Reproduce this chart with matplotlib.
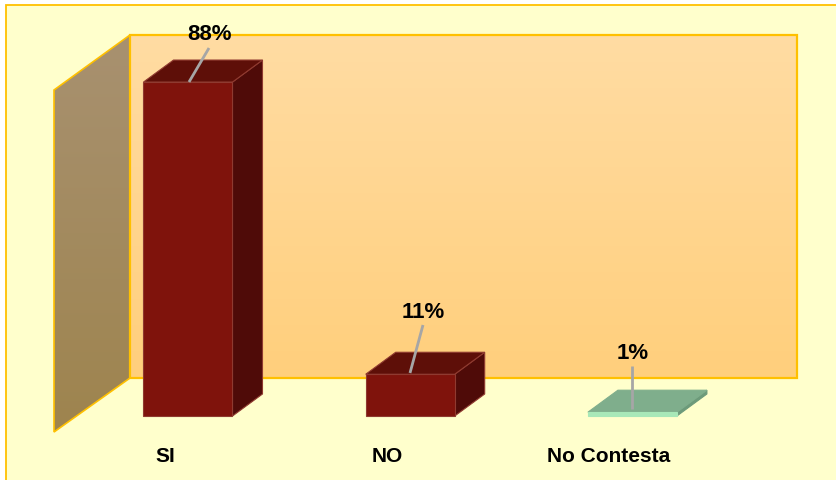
import numpy as np
import matplotlib
matplotlib.use('Agg')
import matplotlib.pyplot as plt
from matplotlib.patches import Polygon, Rectangle

categories = ['SI', 'NO', 'No Contesta']
values = [88, 11, 1]
labels = ['88%', '11%', '1%']

WIDTH, HEIGHT = 837, 481
# scale of the chart in pixels
X0, X_STEP = 188.0, 222.2
Y0, Y_UNIT = 416.0, 3.795
BAR_W = 89 / X_STEP
DX, DY = 30 / X_STEP, 22 / Y_UNIT
XLIM = (-X0 / X_STEP, (WIDTH - X0) / X_STEP)
YLIM = ((Y0 + 1 - HEIGHT) / Y_UNIT, (Y0 + 1) / Y_UNIT)

plt.rcParams['font.family'] = ['Liberation Sans', 'DejaVu Sans']

fig = plt.figure(figsize=(WIDTH / 100, HEIGHT / 100), dpi=100, facecolor='white')
ax = fig.add_axes([0, 0, 1, 1])
ax.set_xlim(*XLIM)
ax.set_ylim(*YLIM)
ax.axis('off')


def px(x, y):
    return (x - X0) / X_STEP, (Y0 - y) / Y_UNIT


def gradient_poly(points, top, bottom, edge, lw):
    pts = [px(*p) for p in points]
    poly = Polygon(pts, closed=True, facecolor='none', edgecolor=edge, linewidth=lw, zorder=2)
    xs = [p[0] for p in pts]
    ys = [p[1] for p in pts]
    c = np.linspace(0, 1, 256)[:, None, None]
    img = np.array(matplotlib.colors.to_rgb(top))[None, None, :] * (1 - c) + \
        np.array(matplotlib.colors.to_rgb(bottom))[None, None, :] * c
    im = ax.imshow(img, extent=[min(xs), max(xs), min(ys), max(ys)], aspect='auto', zorder=1)
    ax.add_patch(poly)
    im.set_clip_path(poly)


# background, border only shows on the left and top
x, y = px(6, 500)
w, h = px(860, 5)
ax.add_patch(Rectangle((x, y), w - x, h - y, facecolor='#FFFFCC', edgecolor='#FFC000', linewidth=1.3, zorder=0))

# walls
gradient_poly([(130, 35), (797, 35), (797, 378), (130, 378)], '#FFDCA3', '#FFCF7C', '#FFC000', 1.6)
gradient_poly([(54, 90), (130, 35), (130, 378), (54, 432)], '#A89170', '#9E844E', '#FFC000', 1.2)
ax.set_xlim(*XLIM)
ax.set_ylim(*YLIM)

# bars
red = ('#7F130C', '#5E0F08', '#4F0B08', '#8F3A30')
green = ('#A8E8B8', '#7FAE8C', '#6C9A7A', None)
starts = [(189, 82), (410, 373), (632, 409)]
ends = [(209, 48), (423, 325), (632, 366)]
text_pos = [(210, 34), (423, 311), (633, 353)]
label_x = [165.5, 387.5, 609]

for i, v in enumerate(values):
    front, top, side, edge = green if v < 5 else red
    l, r = i - BAR_W / 2, i + BAR_W / 2
    ax.add_patch(Polygon([(r, 0), (r + DX, DY), (r + DX, v + DY), (r, v)], facecolor=side, edgecolor=edge or side, linewidth=0.8, zorder=3))
    ax.add_patch(Polygon([(l, v), (r, v), (r + DX, v + DY), (l + DX, v + DY)], facecolor=top, edgecolor=edge or top, linewidth=0.8, zorder=3))
    ax.add_patch(Polygon([(l, 0), (r, 0), (r, v), (l, v)], facecolor=front, edgecolor=edge or front, linewidth=0.8, zorder=3))

    a, b = px(*starts[i]), px(*ends[i])
    ax.plot([a[0], b[0]], [a[1], b[1]], color='#A6A6A6', linewidth=2, zorder=4, solid_capstyle='butt')
    tx, ty = px(*text_pos[i])
    ax.text(tx, ty, labels[i], ha='center', va='center', fontsize=16, fontweight='bold', color='black', zorder=5)
    lx, ly = px(label_x[i], 456)
    ax.text(lx, ly, categories[i], ha='center', va='center', fontsize=15, fontweight='bold', color='black', zorder=5)

fig.savefig('out.png', dpi=100, facecolor=fig.get_facecolor())
